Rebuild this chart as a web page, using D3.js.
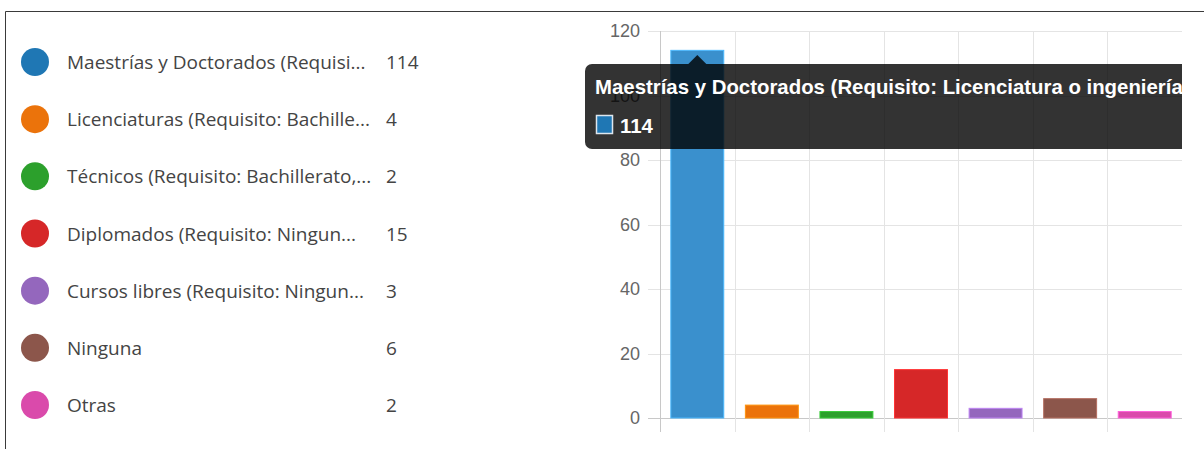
<!DOCTYPE html>
<html>
<head>
<meta charset="utf-8">
<script src="https://cdn.jsdelivr.net/npm/d3@7"></script>
<style>
  body { margin: 0; background: #fff; }
  svg { display: block; }
</style>
</head>
<body>
<svg id="chart" width="1204" height="449"></svg>
<script>
// data
const categories = [
  'Maestrías y Doctorados (Requisi...',
  'Licenciaturas (Requisito: Bachille...',
  'Técnicos (Requisito: Bachillerato,...',
  'Diplomados (Requisito: Ningun...',
  'Cursos libres (Requisito: Ningun...',
  'Ninguna',
  'Otras'
];
const counts = [114, 4, 2, 15, 3, 6, 2];
const colors = ['#1f77b4', '#eb730b', '#2ca02c', '#d62728', '#9467bd', '#8c564b', '#da4aab'];
const yTicks = [0, 20, 40, 60, 80, 100, 120];
const hovered = 0;
const tooltipTitle = 'Maestrías y Doctorados (Requisito: Licenciatura o ingeniería)';

const svg = d3.select('#chart');

// frame
svg.append('path')
  .attr('d', 'M5.5,449V11.5H1204')
  .attr('fill', 'none')
  .attr('stroke', '#3a3a3a');

// ---- legend ----
const legend = svg.append('g');
const ly = d3.scalePoint().domain(d3.range(categories.length)).range([62, 405]);
const rows = legend.selectAll('g.row')
  .data(categories.map((c, i) => ({ c, v: counts[i], i })))
  .enter().append('g')
  .attr('transform', d => `translate(0,${ly(d.i)})`);
rows.append('circle').attr('cx', 35).attr('cy', 0).attr('r', 14)
  .attr('fill', d => colors[d.i]);
rows.append('text').attr('x', 67).attr('y', 7)
  .style('font', '19px "Open Sans", sans-serif')
  .attr('fill', '#444')
  .attr('textLength', function (d) { return null; })
  .text(d => d.c);
rows.append('text').attr('x', 386).attr('y', 7)
  .style('font', '19px "Open Sans", sans-serif')
  .attr('fill', '#444')
  .text(d => d.v);

// ---- bar chart ----
const x = d3.scaleBand().domain(d3.range(categories.length))
  .range([660, 1182]).paddingInner(0.29).paddingOuter(0.145);
const y = d3.scaleLinear().domain([0, 120]).range([418, 31]);
const half = x.step() * x.paddingInner() / 2;

const grid = svg.append('g');
// horizontal grid
grid.selectAll('line.h').data(yTicks).enter().append('line')
  .attr('x1', 648).attr('x2', 1182)
  .attr('y1', d => Math.round(y(d)) + 0.5).attr('y2', d => Math.round(y(d)) + 0.5)
  .attr('stroke', d => d === 0 ? '#c8c8c8' : '#e4e4e4');
// vertical grid at band edges
const edges = d3.range(categories.length).map(i => x(i) - half);
grid.selectAll('line.v').data(edges).enter().append('line')
  .attr('x1', d => Math.round(d) + 0.5).attr('x2', d => Math.round(d) + 0.5)
  .attr('y1', y(120)).attr('y2', 432)
  .attr('stroke', (d, i) => i === 0 ? '#c8c8c8' : '#e4e4e4');

// y tick labels
const yAxis = svg.append('g')
  .attr('transform', 'translate(660,0)')
  .call(d3.axisLeft(y).tickValues(yTicks).tickSize(0).tickPadding(20));
yAxis.select('.domain').remove();
yAxis.selectAll('text')
  .style('font', '18px "Liberation Sans", Arial, sans-serif')
  .attr('fill', '#666');

// bars
svg.append('g').selectAll('rect')
  .data(counts).enter().append('rect')
  .attr('x', (d, i) => x(i))
  .attr('y', d => y(d))
  .attr('width', x.bandwidth())
  .attr('height', d => y(0) - y(d))
  .attr('fill', (d, i) => i === hovered ? '#3a90cd' : colors[i])
  .attr('stroke', (d, i) => d3.color(i === hovered ? '#3a90cd' : colors[i]).brighter(0.7))
  .attr('stroke-width', 1);

// ---- tooltip ----
const clip = svg.append('defs').append('clipPath').attr('id', 'tipclip');
clip.append('rect').attr('x', 0).attr('y', 0).attr('width', 1182).attr('height', 449);

const tip = svg.append('g').attr('clip-path', 'url(#tipclip)');
const cx = x(hovered) + x.bandwidth() / 2;
tip.append('rect')
  .attr('x', 585).attr('y', 64).attr('width', 700).attr('height', 85)
  .attr('rx', 7)
  .attr('fill', 'rgba(0,0,0,0.8)');
tip.append('path')
  .attr('d', `M${cx - 9},64L${cx},55L${cx + 9},64Z`)
  .attr('fill', 'rgba(0,0,0,0.8)');
const title = tip.append('text')
  .attr('x', 595).attr('y', 94)
  .style('font', 'bold 20px "Liberation Sans", Arial, sans-serif')
  .attr('fill', '#fff')
  .text(tooltipTitle);
// squeeze the title so "...ingeniería" ends at the clip edge, as in the picture
const prefixLen = title.node().getSubStringLength(0, tooltipTitle.length - 1);
const sx = 588 / prefixLen;
title.attr('transform', `translate(595,0) scale(${sx},1) translate(-595,0)`);

tip.append('rect')
  .attr('x', 596.5).attr('y', 115.5).attr('width', 16).attr('height', 18)
  .attr('fill', colors[hovered])
  .attr('stroke', '#dde6ee').attr('stroke-width', 1.5);
tip.append('text')
  .attr('x', 620).attr('y', 133)
  .attr('transform', `translate(620,0) scale(${sx},1) translate(-620,0)`)
  .style('font', 'bold 20px "Liberation Sans", Arial, sans-serif')
  .attr('fill', '#fff')
  .text(counts[hovered]);
</script>
</body>
</html>
